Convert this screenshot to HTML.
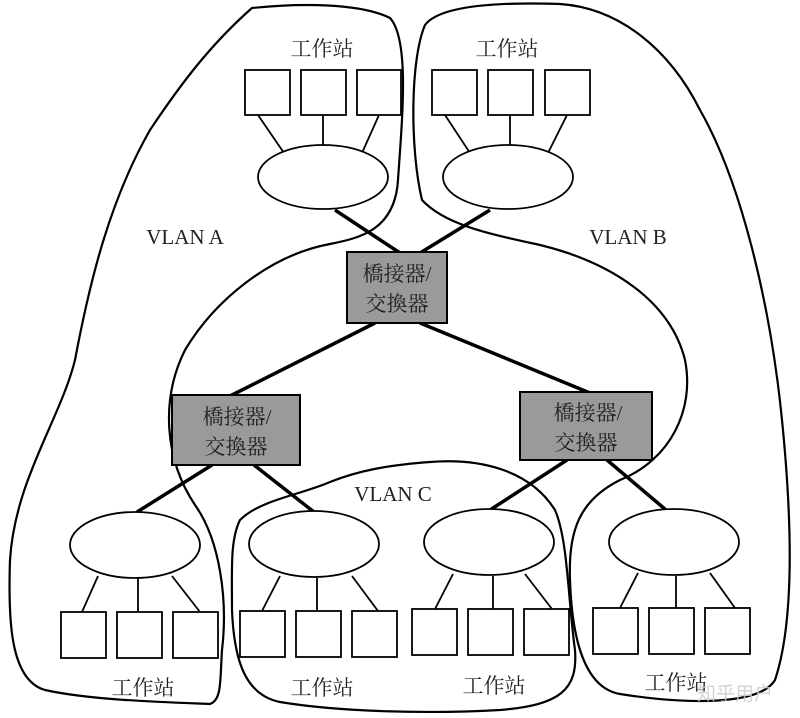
<!DOCTYPE html>
<html><head><meta charset="utf-8"><style>
html,body{margin:0;padding:0;background:#fff}
svg{display:block}
text{font-family:"Liberation Serif","Noto Serif CJK SC","Noto Sans CJK SC",serif;fill:#222}
.cj{font-family:"Liberation Sans","Noto Sans CJK SC",sans-serif;font-size:21px;fill:#333}
</style></head><body>
<svg width="800" height="718" viewBox="0 0 800 718" xmlns="http://www.w3.org/2000/svg">
<g fill="none" stroke="#000" stroke-width="2.2">
<path d="M252,8 C300,3 360,3 390,18 C410,40 402,120 398,180 C395,230 360,238 330,244 C270,255 215,300 185,350 C160,400 165,460 195,505 C220,540 228,600 222,650 C220,680 222,700 210,704 C160,702 90,700 45,690 C10,680 8,620 10,560 C15,480 60,420 75,360 C90,280 110,200 150,130 C180,85 210,45 252,8 Z"/>
<path d="M425,25 C440,5 500,2 560,4 C620,8 670,50 700,110 C740,180 770,300 782,420 C792,520 795,620 775,680 C760,705 690,705 620,694 C585,688 572,640 570,580 C568,530 580,500 620,480 C670,460 695,410 685,360 C670,300 610,262 540,245 C490,234 445,225 422,200 C410,150 410,60 425,25 Z"/>
<path d="M240,520 C260,500 300,495 330,482 C360,470 390,465 430,462 C480,458 530,470 555,510 C568,540 568,600 575,650 C578,690 560,705 500,710 C430,714 340,712 280,702 C245,695 234,660 232,610 C232,570 230,540 240,520 Z"/>
</g>
<g fill="#fff" stroke="#000" stroke-width="1.8">
<rect x="245" y="70" width="45" height="45"/><rect x="301" y="70" width="45" height="45"/><rect x="357" y="70" width="44" height="45"/>
<rect x="432" y="70" width="45" height="45"/><rect x="488" y="70" width="45" height="45"/><rect x="545" y="70" width="45" height="45"/>
<rect x="61" y="612" width="45" height="46"/><rect x="117" y="612" width="45" height="46"/><rect x="173" y="612" width="45" height="46"/>
<rect x="240" y="611" width="45" height="46"/><rect x="296" y="611" width="45" height="46"/><rect x="352" y="611" width="45" height="46"/>
<rect x="412" y="609" width="45" height="46"/><rect x="468" y="609" width="45" height="46"/><rect x="524" y="609" width="45" height="46"/>
<rect x="593" y="608" width="45" height="46"/><rect x="649" y="608" width="45" height="46"/><rect x="705" y="608" width="45" height="46"/>
</g>
<g stroke="#000" stroke-width="1.8">
<line x1="258" y1="115" x2="284" y2="153"/><line x1="323" y1="115" x2="323" y2="145"/><line x1="379" y1="115" x2="362" y2="153"/>
<line x1="445" y1="115" x2="470" y2="153"/><line x1="510" y1="115" x2="510" y2="145"/><line x1="567" y1="115" x2="548" y2="153"/>
<line x1="98" y1="576" x2="82" y2="612"/><line x1="138" y1="578" x2="138" y2="612"/><line x1="172" y1="576" x2="200" y2="612"/>
<line x1="280" y1="576" x2="262" y2="611"/><line x1="317" y1="578" x2="317" y2="611"/><line x1="352" y1="576" x2="378" y2="611"/>
<line x1="453" y1="574" x2="435" y2="609"/><line x1="493" y1="576" x2="493" y2="609"/><line x1="525" y1="574" x2="552" y2="609"/>
<line x1="638" y1="573" x2="620" y2="608"/><line x1="676" y1="576" x2="676" y2="608"/><line x1="710" y1="573" x2="735" y2="608"/>
</g>
<g stroke="#000" stroke-width="3.5">
<line x1="335" y1="210" x2="400" y2="253"/><line x1="490" y1="210" x2="420" y2="253"/>
<line x1="375" y1="323" x2="230" y2="396"/><line x1="420" y1="323" x2="590" y2="393"/>
<line x1="212" y1="465" x2="137" y2="512"/><line x1="254" y1="465" x2="314" y2="512"/>
<line x1="567" y1="460" x2="490" y2="510"/><line x1="607" y1="460" x2="666" y2="510"/>
</g>
<g fill="#fff" stroke="#000" stroke-width="1.8">
<ellipse cx="323" cy="177" rx="65" ry="32"/><ellipse cx="508" cy="177" rx="65" ry="32"/>
<ellipse cx="135" cy="545" rx="65" ry="33"/><ellipse cx="314" cy="544" rx="65" ry="33"/>
<ellipse cx="489" cy="542" rx="65" ry="33"/><ellipse cx="674" cy="542" rx="65" ry="33"/>
</g>
<g fill="#9a9a9a" stroke="#000" stroke-width="2">
<rect x="347" y="252" width="100" height="71"/>
<rect x="172" y="395" width="128" height="70"/>
<rect x="520" y="392" width="132" height="68"/>
</g>
<g class="cj" text-anchor="middle">
<text x="397" y="281">橋接器/</text><text x="397" y="311">交換器</text>
<text x="237" y="424">橋接器/</text><text x="236" y="454">交換器</text>
<text x="588" y="420">橋接器/</text><text x="586" y="450">交換器</text>
<text x="322" y="56">工作站</text><text x="507" y="56">工作站</text>
<text x="143" y="695">工作站</text><text x="322" y="695">工作站</text>
<text x="494" y="693">工作站</text><text x="676" y="690">工作站</text>
</g>
<g font-size="21" text-anchor="middle">
<text x="185" y="244">VLAN A</text><text x="628" y="244">VLAN B</text><text x="393" y="501">VLAN C</text>
</g>
<text x="735" y="700" text-anchor="middle" style="font-family:'Liberation Sans','Noto Sans CJK SC',sans-serif;font-size:19px;fill:#ccc;opacity:.85">知乎用户</text>
</svg>
</body></html>
